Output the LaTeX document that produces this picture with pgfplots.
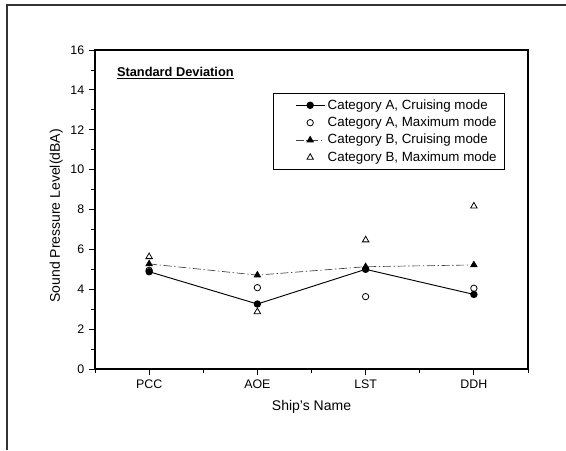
\documentclass[border=0pt]{standalone}
\usepackage{pgfplots}
\pgfplotsset{compat=1.18}
\usepackage{fontspec}
\setmainfont{Liberation Sans}

\begin{document}
\begin{tikzpicture}
\begin{axis}[
  name=main,
  at={(0pt,0pt)}, anchor=south west,
  scale only axis,
  width=324.75pt, height=239.25pt,
  xmin=-0.5, xmax=3.5,
  ymin=0, ymax=16,
  xtick={0,1,2,3},
  xticklabels={PCC,AOE,LST,DDH},
  minor xtick={-0.5,0.5,1.5,2.5,3.5},
  ytick={0,2,...,16},
  minor ytick={1,3,...,15},
  tick align=outside,
  xtick pos=bottom, ytick pos=left,
  major tick length=4.5pt, minor tick length=3pt,
  every tick/.style={black, line width=0.6pt},
  axis line style={line width=1pt},
  tick label style={font=\fontsize{9.3}{11}\selectfont},
  /pgf/number format/assume math mode=true,
  xlabel={Ship's Name},
  ylabel={Sound Pressure Level(dBA)},
  label style={font=\fontsize{10.5}{12}\selectfont},
  xlabel style={yshift=-2pt},
  ylabel style={at={(ticklabel cs:0.48)}, yshift=-1pt},
  legend style={at={(rel axis cs:0.411,0.865)}, anchor=north west,
    draw=black, line width=0.6pt, font=\fontsize{10}{12}\selectfont,
    row sep=0.3pt, inner xsep=4pt, inner ysep=2.5pt},
  legend cell align=left,
  legend image code/.code={%
    \path[draw=none,fill=none] (0cm,-0.05cm) rectangle (0.45cm,0.05cm);
    \draw[mark repeat=2,mark phase=2,#1]
      plot coordinates {(0.45cm,0cm) (0.83cm,0cm) (1.21cm,0cm)};},
  clip=false,
]
% Category A, cruising mode
\addplot[black, line width=0.7pt, mark=*, mark size=2.4pt]
  coordinates {(0,4.88) (1,3.26) (2,5.00) (3,3.74)};
\addlegendentry{Category A, Cruising mode}
% Category A, maximum mode
\addplot[only marks, black, mark=o, mark size=2.4pt, mark options={line width=0.6pt}]
  coordinates {(0,4.95) (1,4.08) (2,3.63) (3,4.05)};
\addlegendentry{Category A, Maximum mode}
% Category B, cruising mode
\addplot[black!75, line width=0.5pt, dash pattern=on 6pt off 2pt on 1pt off 2pt,
  mark=triangle*, mark size=2.8pt, mark options={solid, black}]
  coordinates {(0,5.27) (1,4.71) (2,5.13) (3,5.22)};
\addlegendentry{Category B, Cruising mode}
% Category B, maximum mode
\addplot[only marks, black, mark=triangle, mark size=2.8pt, mark options={line width=0.6pt}]
  coordinates {(0,5.63) (1,2.87) (2,6.47) (3,8.17)};
\addlegendentry{Category B, Maximum mode}
\node[anchor=west, font=\bfseries\fontsize{9.6}{12}\selectfont]
  at (rel axis cs:0.04,0.928) {\underline{Standard Deviation}};
\end{axis}
% page frame, in pixel units measured from the axis corner
\begin{scope}[x=0.75pt,y=0.75pt,shift={(-95,-81)}]
\draw[line width=0.9pt,black!80] (7,0) -- (7,445) -- (566,445);
\pgfresetboundingbox
\useasboundingbox (0,0) rectangle (566,450);
\end{scope}
\end{tikzpicture}
\end{document}
